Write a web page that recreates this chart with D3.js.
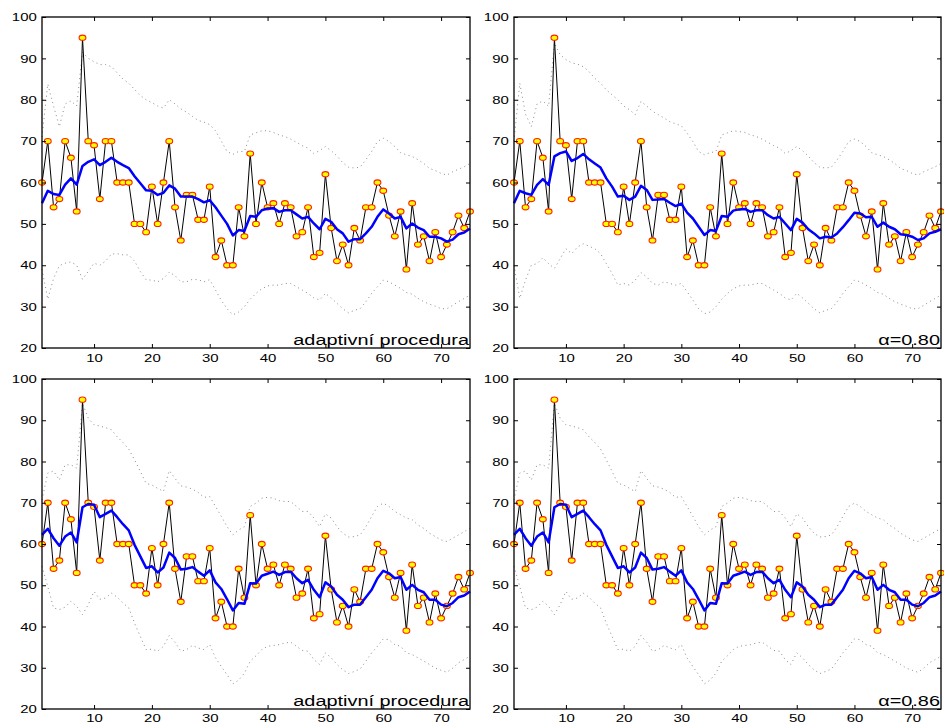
<!DOCTYPE html>
<html>
<head>
<meta charset="utf-8">
<script src="https://cdn.jsdelivr.net/npm/d3@7"></script>
<style>
  body { margin: 0; background: #fff; }
  text { font-family: "Liberation Sans", Arial, sans-serif; fill: #000; }
</style>
</head>
<body>
<div id="chart"></div>
<script>
// Observed values (same series in every panel)
var observed = [60,70,54,56,70,66,53,95,70,69, 56,70,70,60,60,60,50,50,48,59,
  50,60,70,54,46,57,57,51,51,59, 42,46,40,40,54,47,67,50,60,54,
  55,50,55,54,47,48,54,42,43,62, 49,41,45,40,49,46,54,54,60,58,
  52,47,53,39,55,45,47,41,48,42, 45,48,52,49,53];

// Top left - adaptive procedure
var smoothTL = [55,58,57.2,57,59.5,61,59.5,64,65,65.6, 64.2,65,66,65,64.2,63.5,61.5,59.8,58.1,58,
  57,57.5,59.3,58.5,56.6,56.6,56.6,56,55.2,55.7, 54,52,50,47.2,48.5,48.3,51.9,51.7,53.3,53.7,
  53.8,52.9,53.3,53.3,52.3,51.3,51.7,50.1,48.7,51.2, 50.5,48.7,47.7,45.7,46.3,46.3,47.7,49.3,51.7,53.5,
  52.5,51.3,51.7,48.9,50.1,49.1,48.5,46.9,46.9,46.5, 45.7,46.2,47.5,47.9,48.9];
var upperTL = [71,83.8,78.5,73.5,79,79.7,78.5,91.5,90,89.2, 88.5,88.5,88,86.5,85,84,82.5,81,80,79.3,
  78.5,78,80,79,77.8,77,76,75,74.6,74, 72.5,70,67.5,66.8,67.5,67.5,71.5,72,72.5,72.5,
  72.1,71.5,71.1,70.5,69.7,68.9,68.3,67,67.7,68.7, 67.7,66.4,64.8,63.7,63.5,63.7,65.5,67.5,69.9,70.7,
  69.9,68.7,67.2,66.7,66.3,65.5,64.6,63.4,62.9,62.2, 61.8,62.6,63.2,63.8,64.6];
var lowerTL = [39,31.8,36.8,39.9,40.5,40.8,40,36.6,38.5,40.5, 40,41,42.7,42.8,42.5,42.5,41,38.5,36.5,36.4,
  36,36.8,38.3,37.5,36,36,36.6,36.5,36,36.5, 34,31.5,29.5,28,28.7,30,31.8,33.2,34.3,35,
  35.2,35.2,35.6,35.6,34.8,34,33.2,32.1,31.6,33.2, 32.1,30.8,29.5,28.5,29.1,29.5,31.2,33.2,34.8,36.4,
  36,35.2,34.4,33.4,33,32,31.2,30.6,30.1,29.5, 29.5,30.3,31.2,32,32.8];

// Top right - alpha 0.80
var smoothTR = [55,58,57.4,57,59.4,60.8,59.4,66.3,67.1,67.5, 65.2,65.9,66.9,65.6,64.6,63.6,61,59,56.6,56.8,
  55.8,56.6,59.2,58.2,55.8,55.9,56,55.1,54.3,54.9, 52.7,51.3,49.3,47.3,48.5,48.3,51.9,51.7,53.2,53.5,
  53.6,52.9,53.3,53.3,52.1,51.3,51.7,50.1,48.5,51.2, 50.3,48.7,47.7,46.5,46.9,46.7,47.7,49.2,50.9,52.7,
  52.5,51.6,51.7,49.3,50.3,49.3,48.7,47.5,47.3,46.9, 46.1,46.5,47.7,48.1,48.7];
var upperTR = [70,84,76.5,73.5,79,79.7,78.4,93.7,90.9,89.7, 88.9,88.6,88,86.8,85.2,84,82.4,81.2,80,78.5,
  77.6,76.4,79.6,78.5,77.2,76.4,75.6,74.7,74.2,73.7, 71.9,69.9,67.5,66.7,67.2,67.5,71.5,72,72.5,72.3,
  72.1,71.5,71.1,70.5,69.7,68.9,68.3,67,67.7,68.7, 67.7,66.4,64.8,63.7,63.5,63.7,65.5,67.5,69.9,70.5,
  69.9,68.7,67.2,66.7,66.3,65.5,64.6,63.4,62.9,62.2, 61.8,62.6,63.2,63.8,64.6];
var lowerTR = [40,32,36.4,40,40.4,41.8,40.4,39.2,41.6,44, 42.8,44.4,45.2,44.6,44,42.8,40.4,38,35.2,35.6,
  35.2,36.4,38.2,37.2,35.6,35.2,36,35.6,35.2,35.6, 33.6,31.6,29.5,28.3,28.7,30,31.8,33.2,34.3,35,
  35.2,35.2,35.6,35.6,34.8,34,33.2,32.1,31.6,33.2, 32.1,30.8,29.5,28.5,29.1,29.5,31.2,33.2,34.8,36.4,
  36,35.2,34.4,33.4,33,32,31.2,30.6,30.1,29.5, 29.5,30.3,31.2,32,32.8];

// Bottom left - adaptive procedure
var smoothBL = [62.2,63.7,61.4,59.6,61.8,62.8,60.4,68.9,69.7,69.5, 66.5,67.3,68.1,66.5,64.8,63.3,59.8,57,54.2,54.6,
  53.1,54.3,57.9,56.6,53.8,54,54.4,53.3,52.3,53.6, 50.7,49.1,46.6,43.9,45.7,45.5,50.5,50.4,52.3,52.8,
  53.3,52.5,53.2,53.3,51.7,50.5,51.3,48.9,47.1,50.7, 49.7,47.7,46.5,44.7,45.3,45.3,47.1,48.9,51.7,53.5,
  52.9,51.7,52,48.9,50.1,48.9,48.3,46.5,46.5,45.3, 44.9,45.7,47.1,47.5,48.5];
var upperBL = [70.7,77.2,77.7,75.5,79.2,79.2,78.4,94.1,90.5,88.9, 88.6,88.2,87.7,86,84.6,83,80.4,77.6,74.7,74.3,
  73.5,72.7,77.8,75.9,74.1,73.8,73.3,72.5,71.3,71.5, 69.1,66.7,64.2,62.2,63.4,64.2,69.1,69.9,71.1,71.3,
  71.1,70.5,70.3,70.3,69.1,67.9,67.9,66.3,64.2,67.3, 66.3,64.2,62.6,61.7,61.8,62.2,64.2,66.7,69.1,69.9,
  69.1,67.9,67.1,66.3,65.9,64.6,63.8,62.6,61.8,61, 60.6,61.4,62.2,63,63.8];
var lowerBL = [54.6,49.7,44.5,44.1,44.7,46.1,44.9,42.9,45.3,48.5, 46.6,46.9,48.1,47.1,45.7,44.5,40.8,37.6,34.4,34.5,
  34,35.2,37.8,36.2,34,34.4,35.4,34.8,34.4,35.6, 32.4,30.3,28.3,26.1,27,28.7,31.6,32.9,34.4,35.2,
  35.4,35.6,36,36.2,35.2,34.2,34,32,30.8,33.6, 32.4,30.8,29.5,28.6,29.1,29.7,31.6,33.6,35.2,37,
  36.8,35.6,35.2,33.6,33.2,32.4,31.6,30.8,29.9,29.4, 28.9,29.9,31.2,32,32.8];

// Bottom right - alpha 0.86 (reads the same as bottom left)
var smoothBR = smoothBL.slice();
var upperBR = upperBL.slice();
var lowerBR = lowerBL.slice();

var panelLabels = ["adaptivní procedura", "α=0.80", "adaptivní procedura", "α=0.86"];
var xTicks = [10, 20, 30, 40, 50, 60, 70];
var yTicks = [20, 30, 40, 50, 60, 70, 80, 90, 100];

// SVG size
var svgWidth = 944;
var svgHeight = 724;
var stretch = 1.3;   // the original figure is stretched sideways

// Plot boxes of the four panels
var boxes = [
  {left: 42, right: 470, top: 17, bottom: 348},
  {left: 514, right: 941, top: 17, bottom: 348},
  {left: 42, right: 470, top: 379, bottom: 709},
  {left: 514, right: 941, top: 379, bottom: 709}
];

var panels = [
  {smooth: smoothTL, upper: upperTL, lower: lowerTL},
  {smooth: smoothTR, upper: upperTR, lower: lowerTR},
  {smooth: smoothBL, upper: upperBL, lower: lowerBL},
  {smooth: smoothBR, upper: upperBR, lower: lowerBR}
];

var svg = d3.select("#chart")
  .append("svg")
  .attr("width", svgWidth)
  .attr("height", svgHeight);

panels.forEach(function(p, i) {
  var box = boxes[i];
  var w = box.right - box.left;
  var h = box.bottom - box.top;

  var g = svg.append("g")
    .attr("transform", `translate(${box.left}, ${box.top})`);

  var xScale = d3.scaleLinear().domain([1, 75]).range([0, w]);
  var yScale = d3.scaleLinear().domain([20, 100]).range([h, 0]);

  var line = d3.line()
    .x((d, j) => xScale(j + 1))
    .y(d => yScale(d));

  // dotted bounds
  [p.upper, p.lower].forEach(function(arr) {
    g.append("path")
      .datum(arr)
      .attr("d", line)
      .attr("fill", "none")
      .attr("stroke", "#8a8a8a")
      .attr("stroke-width", 1)
      .attr("stroke-dasharray", "1,3.5");
  });

  // observed series
  g.append("path")
    .datum(observed)
    .attr("d", line)
    .attr("fill", "none")
    .attr("stroke", "#000")
    .attr("stroke-width", 1);

  g.selectAll("ellipse")
    .data(observed)
    .enter().append("ellipse")
    .attr("cx", (d, j) => xScale(j + 1))
    .attr("cy", d => yScale(d))
    .attr("rx", 3.4)
    .attr("ry", 2.6)
    .attr("fill", "#ffff00")
    .attr("stroke", "#ff2000")
    .attr("stroke-width", 1.1);

  // smoothed estimate
  g.append("path")
    .datum(p.smooth)
    .attr("d", line)
    .attr("fill", "none")
    .attr("stroke", "#0000ff")
    .attr("stroke-width", 2.5)
    .attr("stroke-linejoin", "round");

  // axes, ticks inside like matlab
  var pad = i < 2 ? 6 : 4.5;
  var bottomAxis = d3.axisBottom(xScale).tickValues(xTicks).tickSize(-4).tickSizeOuter(0).tickPadding(pad);
  var leftAxis = d3.axisLeft(yScale).tickValues(yTicks).tickSize(-4).tickSizeOuter(0).tickPadding(4);
  var topAxis = d3.axisTop(xScale).tickValues(xTicks).tickSize(-4).tickSizeOuter(0).tickFormat("");
  var rightAxis = d3.axisRight(yScale).tickValues(yTicks).tickSize(-4).tickSizeOuter(0).tickFormat("");

  g.append("g").attr("transform", `translate(0, ${h})`).call(bottomAxis);
  g.append("g").call(leftAxis);
  g.append("g").call(topAxis);
  g.append("g").attr("transform", `translate(${w}, 0)`).call(rightAxis);

  g.selectAll(".domain").remove();
  g.selectAll(".tick line").attr("stroke", "#000");
  g.selectAll(".tick text")
    .attr("font-size", "11.5px")
    .attr("font-family", "Liberation Sans, Arial, sans-serif")
    .attr("fill", "#000")
    .attr("transform", `scale(${stretch}, 1)`);

  // box
  g.append("rect")
    .attr("width", w)
    .attr("height", h)
    .attr("fill", "none")
    .attr("stroke", "#000")
    .attr("stroke-width", 1.3);

  // panel label in the lower right corner
  g.append("g")
    .attr("transform", `translate(${w - 1}, ${h - 3}) scale(${stretch}, 1)`)
    .append("text")
    .attr("text-anchor", "end")
    .attr("font-size", "15.3px")
    .text(panelLabels[i]);
});
</script>
</body>
</html>
